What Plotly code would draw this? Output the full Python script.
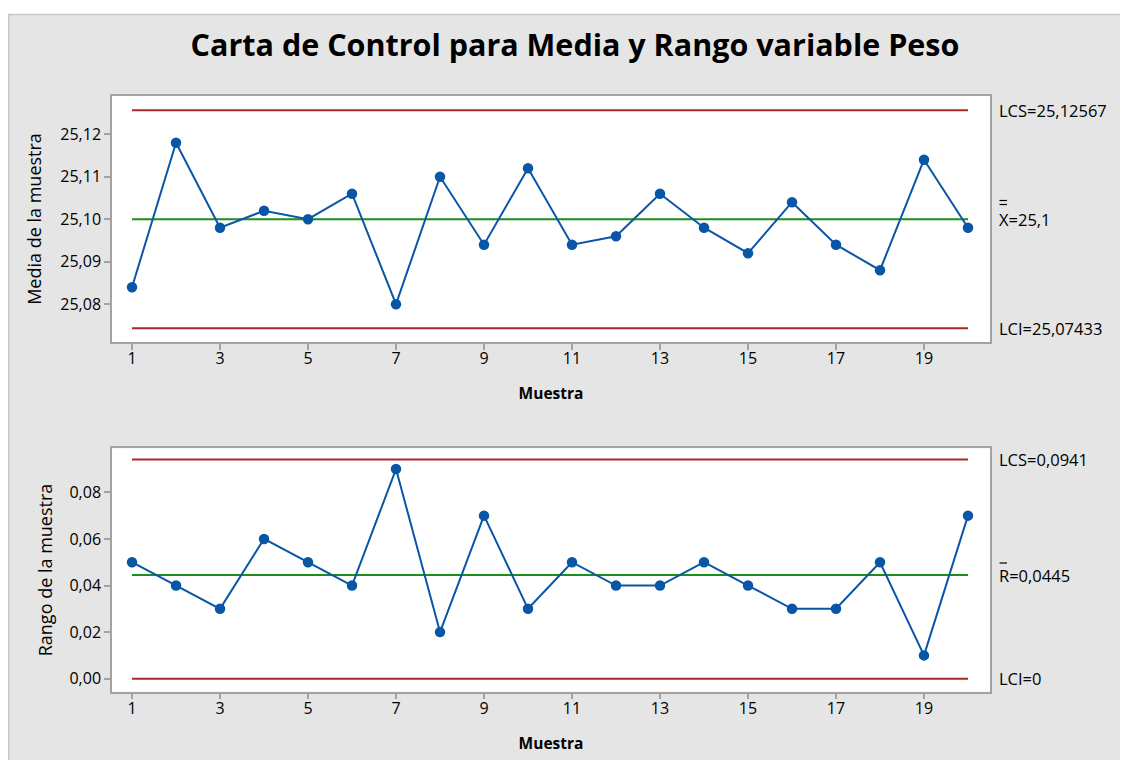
import plotly.graph_objects as go

muestra = list(range(1, 21))
medias = [25.084, 25.118, 25.098, 25.102, 25.100, 25.106, 25.080, 25.110, 25.094, 25.112,
          25.094, 25.096, 25.106, 25.098, 25.092, 25.104, 25.094, 25.088, 25.114, 25.098]
rangos = [0.05, 0.04, 0.03, 0.06, 0.05, 0.04, 0.09, 0.02, 0.07, 0.03,
          0.05, 0.04, 0.04, 0.05, 0.04, 0.03, 0.03, 0.05, 0.01, 0.07]
lcs_x, cl_x, lci_x = 25.12567, 25.1, 25.07433
lcs_r, cl_r, lci_r = 0.0941, 0.0445, 0.0
xticks = [1, 3, 5, 7, 9, 11, 13, 15, 17, 19]
title = "Carta de Control para Media y Rango variable Peso"

# page body has an 8px margin: figure pixel = screen pixel - 8
OFF = 8
W, H = 1120, 752
BLUE = "#0a56a6"
RED = "#a52a2a"
GREEN = "#1a8f1a"
AXC = "#a3a3a3"
FONT = "Open Sans"
TICK = 16
LAB = 16.5

def px(x):
    return (x - OFF) / W

def py(y):
    return 1 - (y - OFF) / H

fig = go.Figure()

for (yv, cl, lcs, lci, ax) in [(medias, cl_x, lcs_x, lci_x, "y"), (rangos, cl_r, lcs_r, lci_r, "y2")]:
    xa = "x" if ax == "y" else "x2"
    for val, col in [(lcs, RED), (lci, RED), (cl, GREEN)]:
        fig.add_trace(go.Scatter(x=[muestra[0], muestra[-1]], y=[val, val], mode="lines",
                                 line=dict(color=col, width=2), xaxis=xa, yaxis=ax,
                                 showlegend=False, hoverinfo="skip"))
    fig.add_trace(go.Scatter(x=muestra, y=yv, mode="lines+markers",
                             line=dict(color=BLUE, width=2),
                             marker=dict(color=BLUE, size=10.5),
                             xaxis=xa, yaxis=ax, showlegend=False))

xcommon = dict(range=[0.545, 20.5], tickvals=xticks, ticks="outside", ticklen=6,
               tickcolor=AXC, tickwidth=1.5, showline=True, linecolor=AXC, linewidth=1.5,
               mirror=True, showgrid=False, zeroline=False,
               tickfont=dict(family=FONT, size=TICK, color="black"),
               title=dict(text="<b>Muestra</b>", font=dict(family=FONT, size=15.5, color="black"),
                          standoff=20))
ycommon = dict(ticks="outside", ticklen=6, tickcolor=AXC, tickwidth=1.5,
               showline=True, linecolor=AXC, linewidth=1.5, mirror=True,
               showgrid=False, zeroline=False,
               tickfont=dict(family=FONT, size=TICK, color="black"))

fig.update_layout(
    width=W, height=H,
    margin=dict(l=0, r=0, t=0, b=0),
    paper_bgcolor="#e5e5e5", plot_bgcolor="white",
    separators=",.",
    title=dict(text="<b>" + title + "</b>", x=px(575), y=py(45), xanchor="center",
               yanchor="middle", xref="paper", yref="paper",
               font=dict(family=FONT, size=30.5, color="black")),
    xaxis=dict(domain=[px(112), px(990)], anchor="y", **xcommon),
    yaxis=dict(domain=[py(342), py(96)], anchor="x", range=[25.0711, 25.129],
               tickvals=[25.08, 25.09, 25.10, 25.11, 25.12], tickformat=".2f",
               title=dict(text="Media de la muestra", font=dict(family=FONT, size=18, color="black"),
                          standoff=14), **ycommon),
    xaxis2=dict(domain=[px(112), px(990)], anchor="y2", **xcommon),
    yaxis2=dict(domain=[py(691.7), py(448.3)], anchor="x2", range=[-0.00558, 0.0989],
                tickvals=[0.0, 0.02, 0.04, 0.06, 0.08], tickformat=".2f",
                title=dict(text="Rango de la muestra", font=dict(family=FONT, size=18, color="black"),
                           standoff=12), **ycommon),
)

try:
    fig.update_xaxes(ticklabelstandoff=-5)
except Exception:
    pass

# white strip at the top and border of the grey panel
fig.add_shape(type="rect", xref="paper", yref="paper", x0=0, x1=1, y0=py(14), y1=1,
              fillcolor="white", line=dict(width=0), layer="below")
fig.add_shape(type="line", xref="paper", yref="paper", x0=0, x1=1, y0=py(14.5), y1=py(14.5),
              line=dict(color="#c8c8c8", width=1.5))
fig.add_shape(type="line", xref="paper", yref="paper", x0=px(8.7), x1=px(8.7), y0=0, y1=py(14),
              line=dict(color="#c8c8c8", width=1.5))

lab = dict(xref="paper", x=px(997), xanchor="left", showarrow=False,
           font=dict(family=FONT, size=LAB, color="black"))

def fmt(v):
    s = repr(float(v))
    if s.endswith(".0"):
        s = s[:-2]
    return s.replace(".", ",")

fig.add_annotation(yref="y", y=lcs_x, text="LCS=" + fmt(lcs_x), yanchor="middle", **lab)
fig.add_annotation(yref="y", y=cl_x, text="X=" + fmt(cl_x), yanchor="middle", **lab)
fig.add_annotation(yref="y", y=lci_x, text="LCI=" + fmt(lci_x), yanchor="middle", **lab)
fig.add_annotation(yref="y2", y=lcs_r, text="LCS=" + fmt(lcs_r), yanchor="middle", **lab)
fig.add_annotation(yref="y2", y=cl_r, text="R=" + fmt(cl_r), yanchor="middle", **lab)
fig.add_annotation(yref="y2", y=lci_r, text="LCI=" + fmt(lci_r), yanchor="middle", **lab)

# overbars (double bar over X, single bar over R)
for yy in (200.5, 204.5):
    fig.add_shape(type="line", xref="paper", yref="paper", x0=px(999.5), x1=px(1007),
                  y0=py(yy), y1=py(yy), line=dict(color="black", width=1.2))
fig.add_shape(type="line", xref="paper", yref="paper", x0=px(999.5), x1=px(1007),
              y0=py(563), y1=py(563), line=dict(color="black", width=1.2))

fig.write_html("out.html")
